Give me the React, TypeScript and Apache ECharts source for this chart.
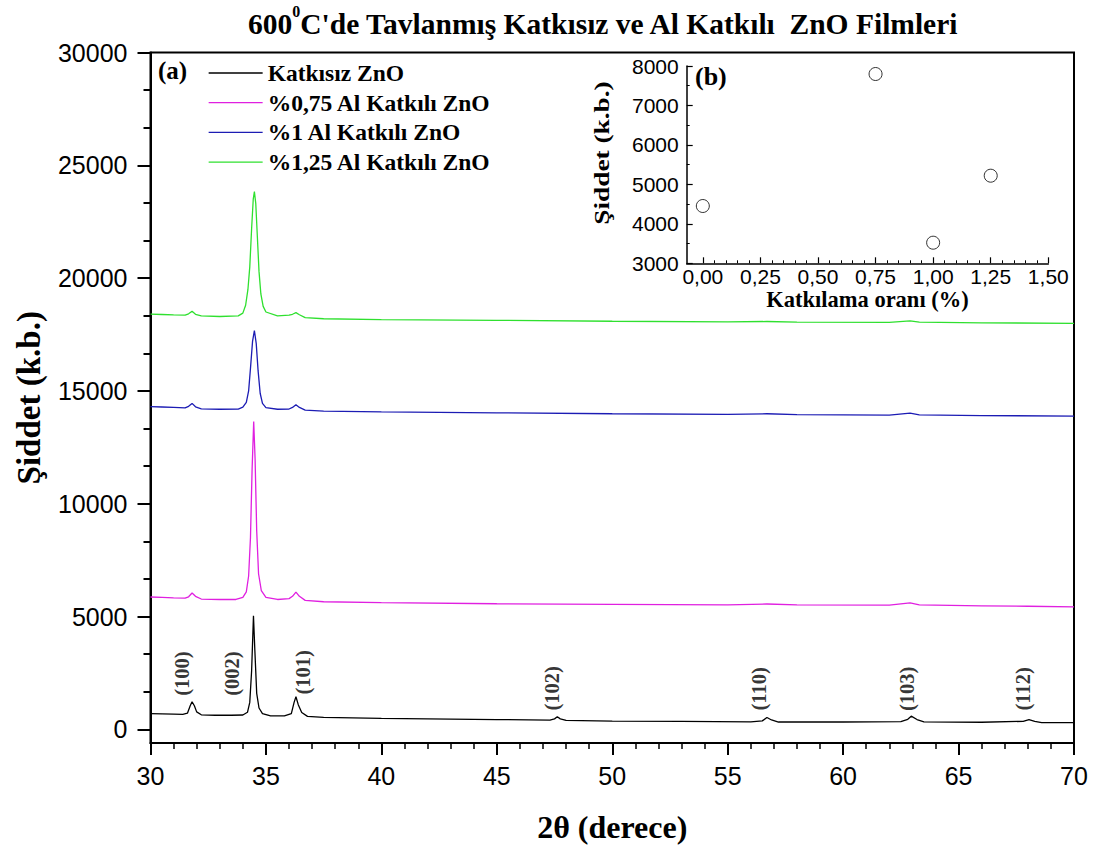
import React, { useEffect, useRef } from "react";
import * as echarts from "echarts";

// ---------- DATA ----------
const seriesNames = [
  "Katkısız ZnO",
  "%0,75 Al Katkılı ZnO",
  "%1 Al Katkılı ZnO",
  "%1,25 Al Katkılı ZnO",
];
const seriesColors = ["#000000", "#e020e0", "#1c1cb4", "#2fe02f"];

const undoped: [number, number][] = [
  [30.0, 700], [30.5, 690], [31.0, 680], [31.4, 670], [31.6, 720], [31.72, 1050], [31.8, 1230],
  [31.9, 1050], [32.0, 780], [32.2, 650], [32.8, 630], [33.5, 630], [34.0, 640], [34.2, 760],
  [34.3, 1200], [34.38, 2600], [34.46, 5040], [34.52, 3500], [34.6, 1600], [34.7, 950],
  [34.85, 700], [35.2, 600], [35.8, 600], [36.1, 700], [36.22, 1200], [36.3, 1450], [36.4, 1100],
  [36.55, 750], [36.8, 580], [37.5, 540], [40, 490], [45, 440], [47.3, 410], [47.5, 470],
  [47.62, 560], [47.75, 470], [48, 400], [50, 370], [53, 360], [56, 340], [56.5, 380],
  [56.7, 530], [56.9, 420], [57.2, 330], [60, 330], [62.5, 350], [62.8, 450], [62.95, 590],
  [63.2, 440], [63.5, 340], [66, 320], [67.8, 360], [68.05, 440], [68.3, 360], [68.6, 300],
  [70, 300],
];
const al075: [number, number][] = [
  [30, 5870], [30.5, 5850], [31.0, 5830], [31.5, 5820], [31.65, 5880], [31.8, 6050], [31.95, 5900],
  [32.2, 5780], [33, 5760], [33.7, 5760], [34.0, 5850], [34.15, 6100], [34.25, 6800],
  [34.33, 8500], [34.4, 11500], [34.47, 13650], [34.53, 12000], [34.6, 8800], [34.68, 6900],
  [34.8, 6150], [35.0, 5850], [35.5, 5760], [36.0, 5800], [36.15, 5900], [36.3, 6090],
  [36.45, 5900], [36.7, 5720], [37.5, 5660], [40, 5620], [45, 5570], [50, 5540], [55, 5520],
  [56.7, 5560], [58, 5520], [62, 5510], [62.9, 5610], [63.3, 5520], [66, 5480], [68, 5460],
  [70, 5430],
];
const al1: [number, number][] = [
  [30, 14310], [30.5, 14290], [31, 14270], [31.5, 14250], [31.65, 14320], [31.8, 14450],
  [31.95, 14300], [32.2, 14210], [33, 14190], [33.8, 14200], [34.0, 14280], [34.15, 14500],
  [34.25, 15000], [34.33, 16000], [34.42, 17200], [34.5, 17680], [34.58, 17100], [34.66, 15900],
  [34.75, 14900], [34.85, 14450], [35.0, 14260], [35.5, 14190], [36.0, 14200], [36.15, 14270],
  [36.3, 14390], [36.45, 14270], [36.7, 14150], [37.5, 14110], [40, 14070], [45, 14030],
  [50, 13990], [55, 13960], [56.7, 13990], [58, 13950], [62, 13930], [62.9, 14020],
  [63.3, 13940], [66, 13910], [70, 13890],
];
const al125: [number, number][] = [
  [30, 18410], [30.5, 18390], [31, 18370], [31.5, 18360], [31.65, 18420], [31.8, 18530],
  [31.95, 18400], [32.2, 18330], [33, 18300], [33.8, 18330], [34.0, 18450], [34.12, 18800],
  [34.22, 19500], [34.3, 20500], [34.38, 22200], [34.45, 23500], [34.5, 23840], [34.56, 23300],
  [34.63, 21800], [34.7, 20300], [34.78, 19300], [34.88, 18750], [35.0, 18500], [35.5, 18330],
  [36.0, 18360], [36.15, 18400], [36.3, 18470], [36.45, 18380], [36.7, 18250], [37.5, 18200],
  [40, 18160], [45, 18130], [50, 18090], [55, 18060], [56.7, 18080], [58, 18050], [62, 18040],
  [62.9, 18110], [63.3, 18050], [66, 18020], [70, 18000],
];

const peakLabels = ["(100)", "(002)", "(101)", "(102)", "(110)", "(103)", "(112)"];
const peakLabelX = [31.37, 33.54, 36.62, 47.39, 56.36, 62.77, 67.79];
const peakLabelY = [2480, 2480, 2530, 1820, 1800, 1800, 1800];

const insetX = [0.0, 0.75, 1.0, 1.25];
const insetY = [4452, 7797, 3522, 5220];

const mainYTicks = [0, 5000, 10000, 15000, 20000, 25000, 30000];
const insetXTicks = [0, 0.25, 0.5, 0.75, 1.0, 1.25, 1.5];

const titleText = "C'de Tavlanmış Katkısız ve Al Katkılı  ZnO Filmleri";
const insetYName = "Şiddet (k.b.)";

// ---------- CHART ----------
export default function App() {
  const ref = useRef<HTMLDivElement>(null);

  useEffect(() => {
    if (!ref.current) return;
    const chart = echarts.init(ref.current, null, { renderer: "svg" });

    const minorY: number[] = [];
    for (let i = 0; i < mainYTicks.length - 1; i++) {
      const a = mainYTicks[i];
      const b = mainYTicks[i + 1];
      minorY.push(a + (b - a) / 3, a + (2 * (b - a)) / 3);
    }
    const minorInsetX: number[] = [];
    for (let i = 0; i < insetXTicks.length - 1; i++) {
      const a = insetXTicks[i];
      const b = insetXTicks[i + 1];
      for (let k = 1; k < 5; k++) minorInsetX.push(a + ((b - a) * k) / 5);
    }

    const serif = "'Liberation Serif', 'Times New Roman', serif";
    const sans = "'Liberation Sans', Arial, sans-serif";
    const curves = [undoped, al075, al1, al125];
    const plain = (v: number) => String(Math.round(v));

    const option: any = {
      animation: false,
      backgroundColor: "#ffffff",
      title: {
        left: 243,
        top: -2,
        text: "{n|600}{s|0}{n|" + titleText + "}",
        textStyle: {
          rich: {
            n: { fontFamily: serif, fontWeight: "bold", fontSize: 29.5, lineHeight: 36, color: "#000", verticalAlign: "bottom" },
            s: { fontFamily: serif, fontWeight: "bold", fontSize: 16, lineHeight: 16, color: "#000", verticalAlign: "top" },
          },
        },
      },
      legend: {
        data: seriesNames,
        orient: "vertical",
        left: 208,
        top: 61,
        padding: 0,
        itemWidth: 54,
        itemHeight: 14,
        itemGap: 5.7,
        itemStyle: { opacity: 0 },
        lineStyle: { width: 1.3 },
        textStyle: { fontFamily: serif, fontWeight: "bold", fontSize: 23.5, lineHeight: 23, color: "#000" },
        selectedMode: false,
      },
      graphic: [
        { type: "text", left: 158, top: 58, style: { text: "(a)", font: "bold 25px " + serif, fill: "#000" } },
        { type: "text", left: 695, top: 63, style: { text: "(b)", font: "bold 26px " + serif, fill: "#000" } },
        {
          type: "text",
          x: 602,
          y: 153,
          rotation: Math.PI / 2,
          scaleX: 1.3,
          style: { text: insetYName, font: "bold 21px " + serif, fill: "#000", textAlign: "center", textVerticalAlign: "middle" },
        },
      ],
      grid: [
        { left: 150.5, right: 24, top: 52.5, bottom: 109, show: true, borderColor: "#000", borderWidth: 2, containLabel: false },
        { left: 686.7, right: 49.7, top: 66, bottom: 588.7, containLabel: false },
      ],
      xAxis: [
        {
          type: "value", gridIndex: 0, position: "bottom", min: 30, max: 70, interval: 5,
          name: "2θ (derece)", nameLocation: "middle", nameGap: 68,
          nameTextStyle: { fontFamily: serif, fontWeight: "bold", fontSize: 32, color: "#000" },
          axisLine: { show: true, onZero: false, lineStyle: { color: "#000", width: 2 } },
          axisTick: { show: true, inside: false, length: 12, lineStyle: { color: "#000", width: 2 } },
          minorTick: { show: true, splitNumber: 5, length: 6, lineStyle: { color: "#000", width: 1.5 } },
          axisLabel: { fontFamily: sans, fontSize: 25, color: "#000", margin: 20, formatter: plain },
          splitLine: { show: false },
        },
        {
          type: "value", gridIndex: 1, position: "bottom", min: -0.07, max: 1.5,
          name: "Katkılama oranı (%)", nameLocation: "middle", nameGap: 17,
          nameTextStyle: { fontFamily: serif, fontWeight: "bold", fontSize: 22.5, color: "#000" },
          axisLine: { show: true, onZero: false, lineStyle: { color: "#000", width: 1.5 } },
          axisTick: { show: true, inside: true, length: 6, customValues: insetXTicks, lineStyle: { color: "#000", width: 1.2 } },
          axisLabel: {
            fontFamily: sans, fontSize: 21, color: "#000", margin: 3, customValues: insetXTicks,
            formatter: (v: number) => v.toFixed(2).replace(".", ","),
          },
          splitLine: { show: false },
        },
        {
          type: "value", gridIndex: 1, position: "bottom", min: -0.07, max: 1.5,
          axisLine: { show: false, onZero: false },
          axisTick: { show: true, inside: true, length: 3, customValues: minorInsetX, lineStyle: { color: "#000", width: 1 } },
          axisLabel: { show: false },
          splitLine: { show: false },
        },
      ],
      yAxis: [
        {
          type: "value", gridIndex: 0, position: "left", min: -600, max: 30000,
          name: "Şiddet (k.b.)", nameLocation: "middle", nameGap: 105,
          nameTextStyle: { fontFamily: serif, fontWeight: "bold", fontSize: 33, color: "#000" },
          axisLine: { show: true, onZero: false, lineStyle: { color: "#000", width: 2 } },
          axisTick: { show: true, inside: false, length: 13, customValues: mainYTicks, lineStyle: { color: "#000", width: 2 } },
          axisLabel: { fontFamily: sans, fontSize: 25, color: "#000", margin: 23, customValues: mainYTicks, formatter: plain },
          splitLine: { show: false },
        },
        {
          type: "value", gridIndex: 0, position: "left", min: -600, max: 30000,
          axisLine: { show: false, onZero: false },
          axisTick: { show: true, inside: false, length: 7, customValues: minorY, lineStyle: { color: "#000", width: 2 } },
          axisLabel: { show: false },
          splitLine: { show: false },
        },
        {
          type: "value", gridIndex: 1, position: "left", min: 3000, max: 8000, interval: 1000,
          axisLine: { show: true, onZero: false, lineStyle: { color: "#000", width: 1.5 } },
          axisTick: { show: true, inside: true, length: 6, lineStyle: { color: "#000", width: 1.2 } },
          minorTick: { show: true, splitNumber: 2, length: 3, lineStyle: { color: "#000", width: 1 } },
          axisLabel: { fontFamily: sans, fontSize: 21, color: "#000", margin: 8, formatter: plain },
          splitLine: { show: false },
        },
      ],
      series: [
        ...curves.map((d, i) => ({
          name: seriesNames[i],
          type: "line",
          xAxisIndex: 0,
          yAxisIndex: 0,
          data: d,
          symbol: "none",
          color: seriesColors[i],
          lineStyle: { color: seriesColors[i], width: 1.3 },
          z: 3,
        })),
        {
          name: "hkl",
          type: "scatter",
          xAxisIndex: 0,
          yAxisIndex: 0,
          symbolSize: 0,
          data: peakLabels.map((n, i) => ({ name: n, value: [peakLabelX[i], peakLabelY[i]] })),
          label: {
            show: true,
            position: "inside",
            rotate: 90,
            formatter: (p: any) => p.name,
            fontFamily: serif,
            fontWeight: "bold",
            fontSize: 20.5,
            color: "#000",
          },
          silent: true,
          z: 4,
        },
        {
          name: "inset",
          type: "scatter",
          xAxisIndex: 1,
          yAxisIndex: 2,
          data: insetX.map((x, i) => [x, insetY[i]]),
          symbol: "circle",
          symbolSize: 13,
          itemStyle: { color: "#ffffff", borderColor: "#000", borderWidth: 1 },
          z: 5,
        },
      ],
    };

    chart.setOption(option);
    return () => chart.dispose();
  }, []);

  return (
    <div
      ref={ref}
      style={{ position: "fixed", left: 0, top: 0, width: 1098, height: 852, background: "#fff" }}
    />
  );
}
